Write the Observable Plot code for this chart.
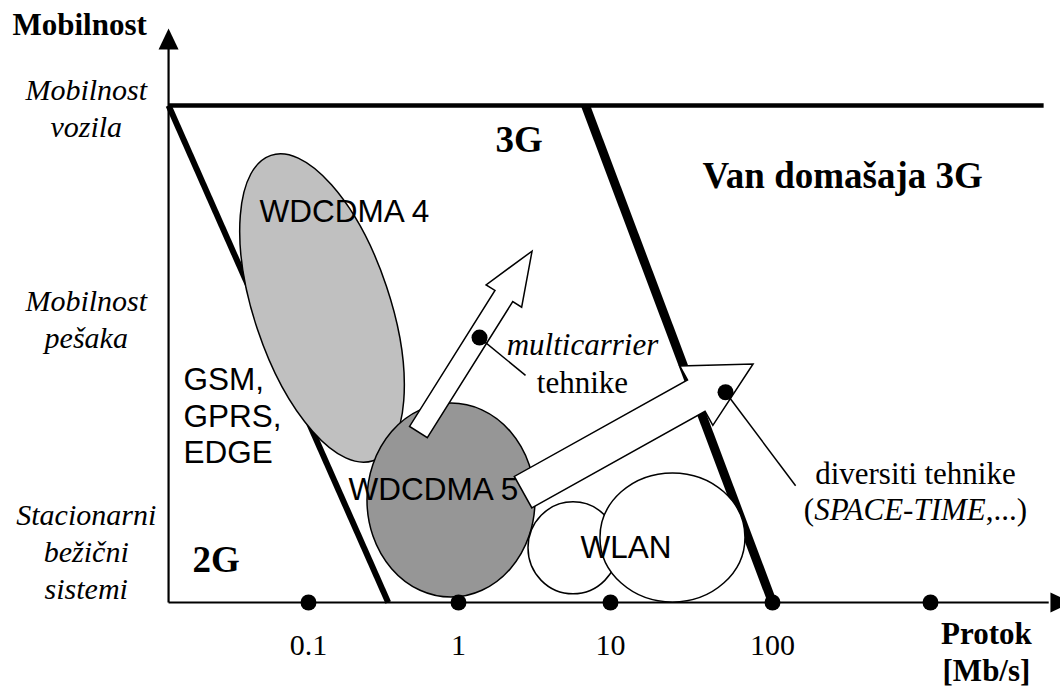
<!DOCTYPE html>
<html><head><meta charset="utf-8">
<script src="https://cdn.jsdelivr.net/npm/d3@7"></script>
<script src="https://cdn.jsdelivr.net/npm/@observablehq/plot@0.6"></script>
<style>body{margin:0;background:#fff} svg{display:block}</style>
</head><body><div id="chart"></div>
<script>
// ---- Data: x = throughput (Mb/s, log scale), y = mobility level (0 = stationary, 100 = vehicle)
const rateTicks = [0.1, 1, 10, 100];
const rateTickLabels = ["0.1", "1", "10", "100"];
const rateDots = [0.1, 1, 10, 100, 1000];
const mobilityLabels = ["Mobilnost\nvozila", "Mobilnost\npešaka", "Stacionarni\nbežični\nsistemi"];
const mobilityLabelLevel = [93.6, 51.3, 0.8];
const mobilityLabelRate = 0.0033;
const rateAxisStart = 0.01167;
const rateAxisEnd = 5600;
const rateArrowTip = 7800;
const mobilityAxisEnd = 112;
const mobilityArrowTip = 115.5;
const vehicleMobility = 100;
const vehicleLineEnd = 5200;
// generation boundaries: [rate at vehicle mobility, rate at zero mobility]
const boundary2G = [0.01167, 0.34];
const boundary3G = [6.85, 100];
// technology regions (centres)
const techNames = ["WDCDMA 4", "WDCDMA 5", "WLAN-a", "WLAN-b"];
const techRate = [0.124, 0.898, 5.71, 24.3];
const techMobility = [59.15, 20.5, 10.9, 13.0];
// evolution arrows
const arrowFromRate = [0.545, 2.68];
const arrowFromMobility = [34.2, 22.1];
const arrowToRate = [3.07, 76.4];
const arrowToMobility = [70.6, 47.9];
// annotation points and leader line ends
const notePointRate = [1.375, 51.3];
const notePointMobility = [53.3, 42.3];
const noteEndRate = [2.76, 140];
const noteEndMobility = [45.7, 23.5];
// labels
const sansLabels = ["WDCDMA 4", "WDCDMA 5", "WLAN", "GSM,\nGPRS,\nEDGE"];
const sansLabelRate = [0.0471, 0.1848, 6.35, 0.01468];
const sansLabelMobility = [76.46, 20.72, 9.05, 27.97];
const boldLabels = ["2G", "3G", "Van domašaja 3G"];
const boldLabelRate = [0.01686, 1.75, 37.0];
const boldLabelMobility = [6.04, 90.7, 83.3];
const yTitle = "Mobilnost";
const yTitleRate = 0.001063, yTitleMobility = 114.1;
const xTitle = "Protok\n[Mb/s]";
const xTitleRate = 2260, xTitleMobility = -15.7;
const tickLabelMobility = -10.66;
const multiLabel = ["multicarrier", "tehnike"];
const multiLabelRate = 6.54;
const multiLabelMobility = [49.7, 42.25];
const divLabel = "diversiti tehnike";
const divLabelRate = 803, divLabelMobility = 23.94;
const divSub = ["(", "SPACE-TIME", ",...)"];
const divSubMobility = 16.5;

// ---- Styles (sizes in px)
const ellipseStyle = [
  {rx: 68, ry: 161, rotate: -18.5, fill: "#c0c0c0"},
  {rx: 84, ry: 97, rotate: 0, fill: "#969696"},
  {rx: 45, ry: 46, rotate: 0, fill: "#ffffff"},
  {rx: 72.5, ry: 64.5, rotate: 0, fill: "#ffffff"}
];
const arrowStyle = [{shaft: 21, head: 42, headLen: 53}, {shaft: 36, head: 68, headLen: 65}];
const serif = "Liberation Serif, Times New Roman, serif";
const sans = "Liberation Sans, Arial, sans-serif";

// ---- Tables
const techRows = techNames.map((n, i) => ({n, x: techRate[i], y: techMobility[i], i}));
const arrowRows = arrowFromRate.map((x1, i) => ({x1, y1: arrowFromMobility[i], x2: arrowToRate[i], y2: arrowToMobility[i], i}));
const axisRows = [
  {x1: rateAxisStart, y1: 0, x2: rateAxisStart, y2: mobilityAxisEnd},
  {x1: rateAxisStart, y1: 0, x2: rateAxisEnd, y2: 0}
];
const noteRows = notePointRate.map((x, i) => ({x1: x, y1: notePointMobility[i], x2: noteEndRate[i], y2: noteEndMobility[i]}));

const upTri = {draw(ctx) { ctx.moveTo(0, 0); ctx.lineTo(10, 21); ctx.lineTo(-10, 21); ctx.closePath(); }};
const rightTri = {draw(ctx) { ctx.moveTo(0, 0); ctx.lineTo(-21, 10); ctx.lineTo(-21, -10); ctx.closePath(); }};

function ellipseMark(rows) {
  return Plot.dot(rows, {x: "x", y: "y", render: (index, scales, values) => {
    const g = d3.create("svg:g");
    for (const i of index) {
      const s = ellipseStyle[rows[i].i];
      const cx = values.x[i], cy = values.y[i];
      g.append("ellipse").attr("cx", cx).attr("cy", cy).attr("rx", s.rx).attr("ry", s.ry)
        .attr("transform", `rotate(${s.rotate} ${cx} ${cy})`)
        .attr("fill", s.fill).attr("stroke", "#000").attr("stroke-width", 1.5);
    }
    return g.node();
  }});
}

const arrowMark = Plot.link(arrowRows, {x1: "x1", y1: "y1", x2: "x2", y2: "y2", render: (index, scales, values) => {
  const g = d3.create("svg:g");
  for (const i of index) {
    const s = arrowStyle[arrowRows[i].i];
    const tx = values.x1[i], ty = values.y1[i], px = values.x2[i], py = values.y2[i];
    const L = Math.hypot(px - tx, py - ty), ux = (px - tx) / L, uy = (py - ty) / L;
    const nx = -uy, ny = ux, a = s.shaft / 2, h = s.head / 2;
    const bx = px - ux * s.headLen, by = py - uy * s.headLen;
    const pts = [[tx + nx * a, ty + ny * a], [bx + nx * a, by + ny * a], [bx + nx * h, by + ny * h], [px, py],
      [bx - nx * h, by - ny * h], [bx - nx * a, by - ny * a], [tx - nx * a, ty - ny * a]];
    g.append("polygon").attr("points", pts.map(p => p.join(",")).join(" "))
      .attr("fill", "#fff").attr("stroke", "#000").attr("stroke-width", 1.5).attr("stroke-linejoin", "miter");
  }
  return g.node();
}});

// mixed-style label: "(" + italic "SPACE-TIME" + ",...)"
const divSubMark = Plot.text([divSub], {x: () => divLabelRate, y: () => divSubMobility, text: d => d.join(""),
  fontSize: 31, fontFamily: serif, lineAnchor: "bottom", fill: "#000",
  render: (index, scales, values, dimensions, context, next) => {
    const g = next(index, scales, values, dimensions, context);
    const t = g.querySelector("text");
    if (t) {
      t.textContent = "";
      divSub.forEach((s, k) => {
        const ts = document.createElementNS("http://www.w3.org/2000/svg", "tspan");
        ts.textContent = s;
        if (k === 1) ts.setAttribute("font-style", "italic");
        t.appendChild(ts);
      });
    }
    return g;
  }});

const chart = Plot.plot({
  width: 1060,
  height: 687,
  margin: 0,
  axis: null,
  style: {background: "#fff", fontFamily: serif, overflow: "visible"},
  x: {type: "log", domain: [0.1, 1, 10, 100, 1000], range: [308, 458, 610, 772, 930]},
  y: {type: "linear", domain: [0, 100], range: [602, 105]},
  marks: [
    Plot.link(axisRows, {x1: "x1", y1: "y1", x2: "x2", y2: "y2", stroke: "#000", strokeWidth: 2.2}),
    Plot.dot([0], {x: () => rateAxisStart, y: () => mobilityArrowTip, symbol: upTri, fill: "#000", stroke: "none"}),
    Plot.dot([0], {x: () => rateArrowTip, y: () => 0, symbol: rightTri, fill: "#000", stroke: "none"}),
    Plot.link([0], {x1: () => rateAxisStart, y1: () => vehicleMobility, x2: () => vehicleLineEnd, y2: () => vehicleMobility, stroke: "#000", strokeWidth: 4.5}),
    Plot.link([boundary2G], {x1: d => d[0], y1: () => vehicleMobility, x2: d => d[1], y2: () => 0, stroke: "#000", strokeWidth: 6}),
    ellipseMark(techRows.slice(0, 2)),
    Plot.link([boundary3G], {x1: d => d[0], y1: () => vehicleMobility, x2: d => d[1], y2: () => 0, stroke: "#000", strokeWidth: 9}),
    ellipseMark(techRows.slice(2)),
    arrowMark,
    Plot.dot(rateDots, {x: d => d, y: () => 0, r: 8, fill: "#000", stroke: "none"}),
    Plot.link(noteRows, {x1: "x1", y1: "y1", x2: "x2", y2: "y2", stroke: "#000", strokeWidth: 1.5}),
    Plot.dot(notePointRate, {x: d => d, y: (d, i) => notePointMobility[i], r: 8, fill: "#000", stroke: "none"}),
    // texts
    Plot.text(rateTickLabels, {x: (d, i) => rateTicks[i], y: () => tickLabelMobility, text: d => d, fontSize: 30, fontFamily: serif, lineAnchor: "bottom", fill: "#000"}),
    Plot.text(mobilityLabels, {x: () => mobilityLabelRate, y: (d, i) => mobilityLabelLevel[i], text: d => d, fontSize: 30, fontStyle: "italic", fontFamily: serif, lineAnchor: "bottom", lineHeight: 1.233, fill: "#000"}),
    Plot.text([yTitle], {x: () => yTitleRate, y: () => yTitleMobility, text: d => d, fontSize: 31, fontWeight: "bold", fontFamily: serif, textAnchor: "start", lineAnchor: "bottom", fill: "#000"}),
    Plot.text([xTitle], {x: () => xTitleRate, y: () => xTitleMobility, text: d => d, fontSize: 31, fontWeight: "bold", fontFamily: serif, lineAnchor: "bottom", lineHeight: 1.19, fill: "#000"}),
    Plot.text(boldLabels, {x: (d, i) => boldLabelRate[i], y: (d, i) => boldLabelMobility[i], text: d => d, fontSize: 37, fontWeight: "bold", fontFamily: serif, textAnchor: "start", lineAnchor: "bottom", fill: "#000"}),
    Plot.text(sansLabels, {x: (d, i) => sansLabelRate[i], y: (d, i) => sansLabelMobility[i], text: d => d, fontSize: 31.5, fontFamily: sans, textAnchor: "start", lineAnchor: "bottom", lineHeight: 1.16, fill: "#000"}),
    Plot.text([multiLabel[0]], {x: () => multiLabelRate, y: () => multiLabelMobility[0], text: d => d, fontSize: 31, fontStyle: "italic", fontFamily: serif, lineAnchor: "bottom", fill: "#000"}),
    Plot.text([multiLabel[1]], {x: () => multiLabelRate, y: () => multiLabelMobility[1], text: d => d, fontSize: 31, fontFamily: serif, lineAnchor: "bottom", fill: "#000"}),
    Plot.text([divLabel], {x: () => divLabelRate, y: () => divLabelMobility, text: d => d, fontSize: 31, fontFamily: serif, lineAnchor: "bottom", fill: "#000"}),
    divSubMark
  ]
});
document.getElementById("chart").append(chart);
</script>
</body></html>
